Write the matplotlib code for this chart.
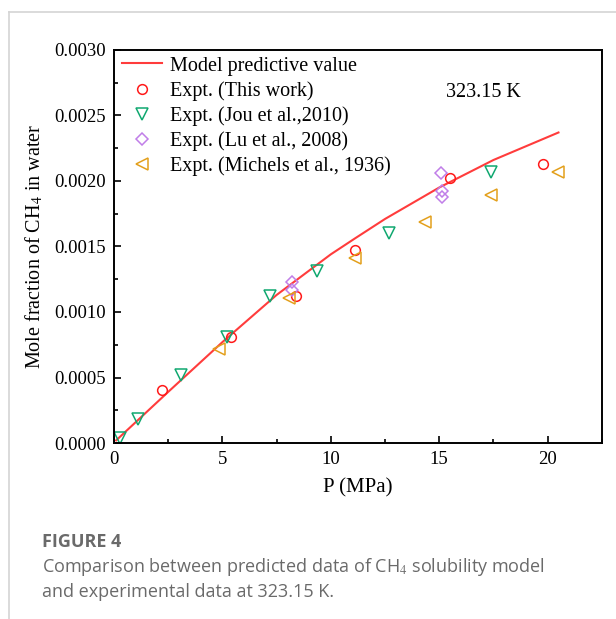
import matplotlib
matplotlib.use("Agg")
import matplotlib.pyplot as plt
from matplotlib.lines import Line2D
from matplotlib.ticker import MultipleLocator, FormatStrFormatter

# model curve
model_p = [0.1, 2.5, 5.0, 7.5, 10.0, 11.1, 12.5, 15.0, 17.5, 20.5]
model_x = [0.00002, 0.00039, 0.00077, 0.00113, 0.00144, 0.00156, 0.00171, 0.00195, 0.00216, 0.00237]

# Expt. (This work)
tw_p = [2.2, 5.4, 8.4, 11.1, 15.5, 19.8]
tw_x = [0.000405, 0.00081, 0.00112, 0.00147, 0.00202, 0.00213]

# Expt. (Jou et al., 2010)
jou_p = [0.28, 1.1, 3.1, 5.2, 7.2, 9.35, 12.7, 17.4]
jou_x = [0.00004, 0.00018, 0.00052, 0.00081, 0.00112, 0.00131, 0.00160, 0.00207]

# Expt. (Lu et al., 2008)
lu_p = [8.2, 8.2, 15.1, 15.15, 15.15]
lu_x = [0.00117, 0.00123, 0.00206, 0.00192, 0.00188]

# Expt. (Michels et al., 1936)
mi_p = [4.84, 8.06, 11.1, 14.33, 17.37, 20.5]
mi_x = [0.00072, 0.00111, 0.00141, 0.00169, 0.00189, 0.00207]

plt.rcParams['font.family'] = ['Liberation Serif', 'DejaVu Serif']
plt.rcParams['mathtext.fontset'] = 'stix'

fig = plt.figure(figsize=(6.16, 6.19), dpi=100)
ax = fig.add_axes([0.185, 0.2843, 0.792, 0.635])

ax.plot(model_p, model_x, color='#ff3c3c', lw=1.5, label='Model predictive value')
ax.plot(tw_p, tw_x, 'o', ms=7, mfc='none', mec='#ff1a1a', mew=1.1, label='Expt. (This work)')
ax.plot(jou_p, jou_x, 'v', ms=8.5, mfc='none', mec='#10a870', mew=1.1, label='Expt. (Jou et al.,2010)')
ax.plot(lu_p, lu_x, 'D', ms=6.5, mfc='none', mec='#c07ee8', mew=1.1, label='Expt. (Lu et al., 2008)')
ax.plot(mi_p, mi_x, '<', ms=8.5, mfc='none', mec='#e3a01c', mew=1.1, label='Expt. (Michels et al., 1936)')

ax.set_xlim(0, 22.5)
ax.set_ylim(0, 0.003)
ax.xaxis.set_major_locator(MultipleLocator(5))
ax.xaxis.set_minor_locator(MultipleLocator(2.5))
ax.yaxis.set_major_locator(MultipleLocator(0.0005))
ax.yaxis.set_minor_locator(MultipleLocator(0.00025))
ax.yaxis.set_major_formatter(FormatStrFormatter('%.4f'))
ax.tick_params(which='both', direction='in', top=False, right=False, labelsize=13.5, width=1.2)
ax.tick_params(which='major', length=5, pad=6)
ax.tick_params(which='minor', length=3)
for s in ax.spines.values():
    s.set_linewidth(1.4)

ax.set_xlabel('P (MPa)', fontsize=15, labelpad=7)
ax.set_ylabel('Mole fraction of CH$_4$ in water', fontsize=14.5, labelpad=6)
ax.text(0.68, 0.88, '323.15 K', transform=ax.transAxes, fontsize=14.5)

ax.legend(loc='upper left', frameon=False, fontsize=14.5, handlelength=2.0,
          handletextpad=0.4, labelspacing=0.27, borderaxespad=0.0,
          bbox_to_anchor=(0.0, 1.004))

# caption
fig.text(0.068, 0.116, 'FIGURE 4', fontsize=13, fontweight='bold', color='#6a6a6a',
         family=['Open Sans', 'DejaVu Sans'])
fig.text(0.068, 0.076, 'Comparison between predicted data of CH$_4$ solubility model',
         fontsize=13, color='#6a6a6a', family=['Open Sans', 'DejaVu Sans'])
fig.text(0.068, 0.036, 'and experimental data at 323.15 K.',
         fontsize=13, color='#6a6a6a', family=['Open Sans', 'DejaVu Sans'])

# thin page frame
fig.add_artist(Line2D([0.0146, 0.0146], [0.0, 0.981], color='#d4d4d4', lw=1.2, transform=fig.transFigure))
fig.add_artist(Line2D([0.0146, 1.0], [0.981, 0.981], color='#d4d4d4', lw=1.2, transform=fig.transFigure))

fig.savefig('out.png', dpi=100)
